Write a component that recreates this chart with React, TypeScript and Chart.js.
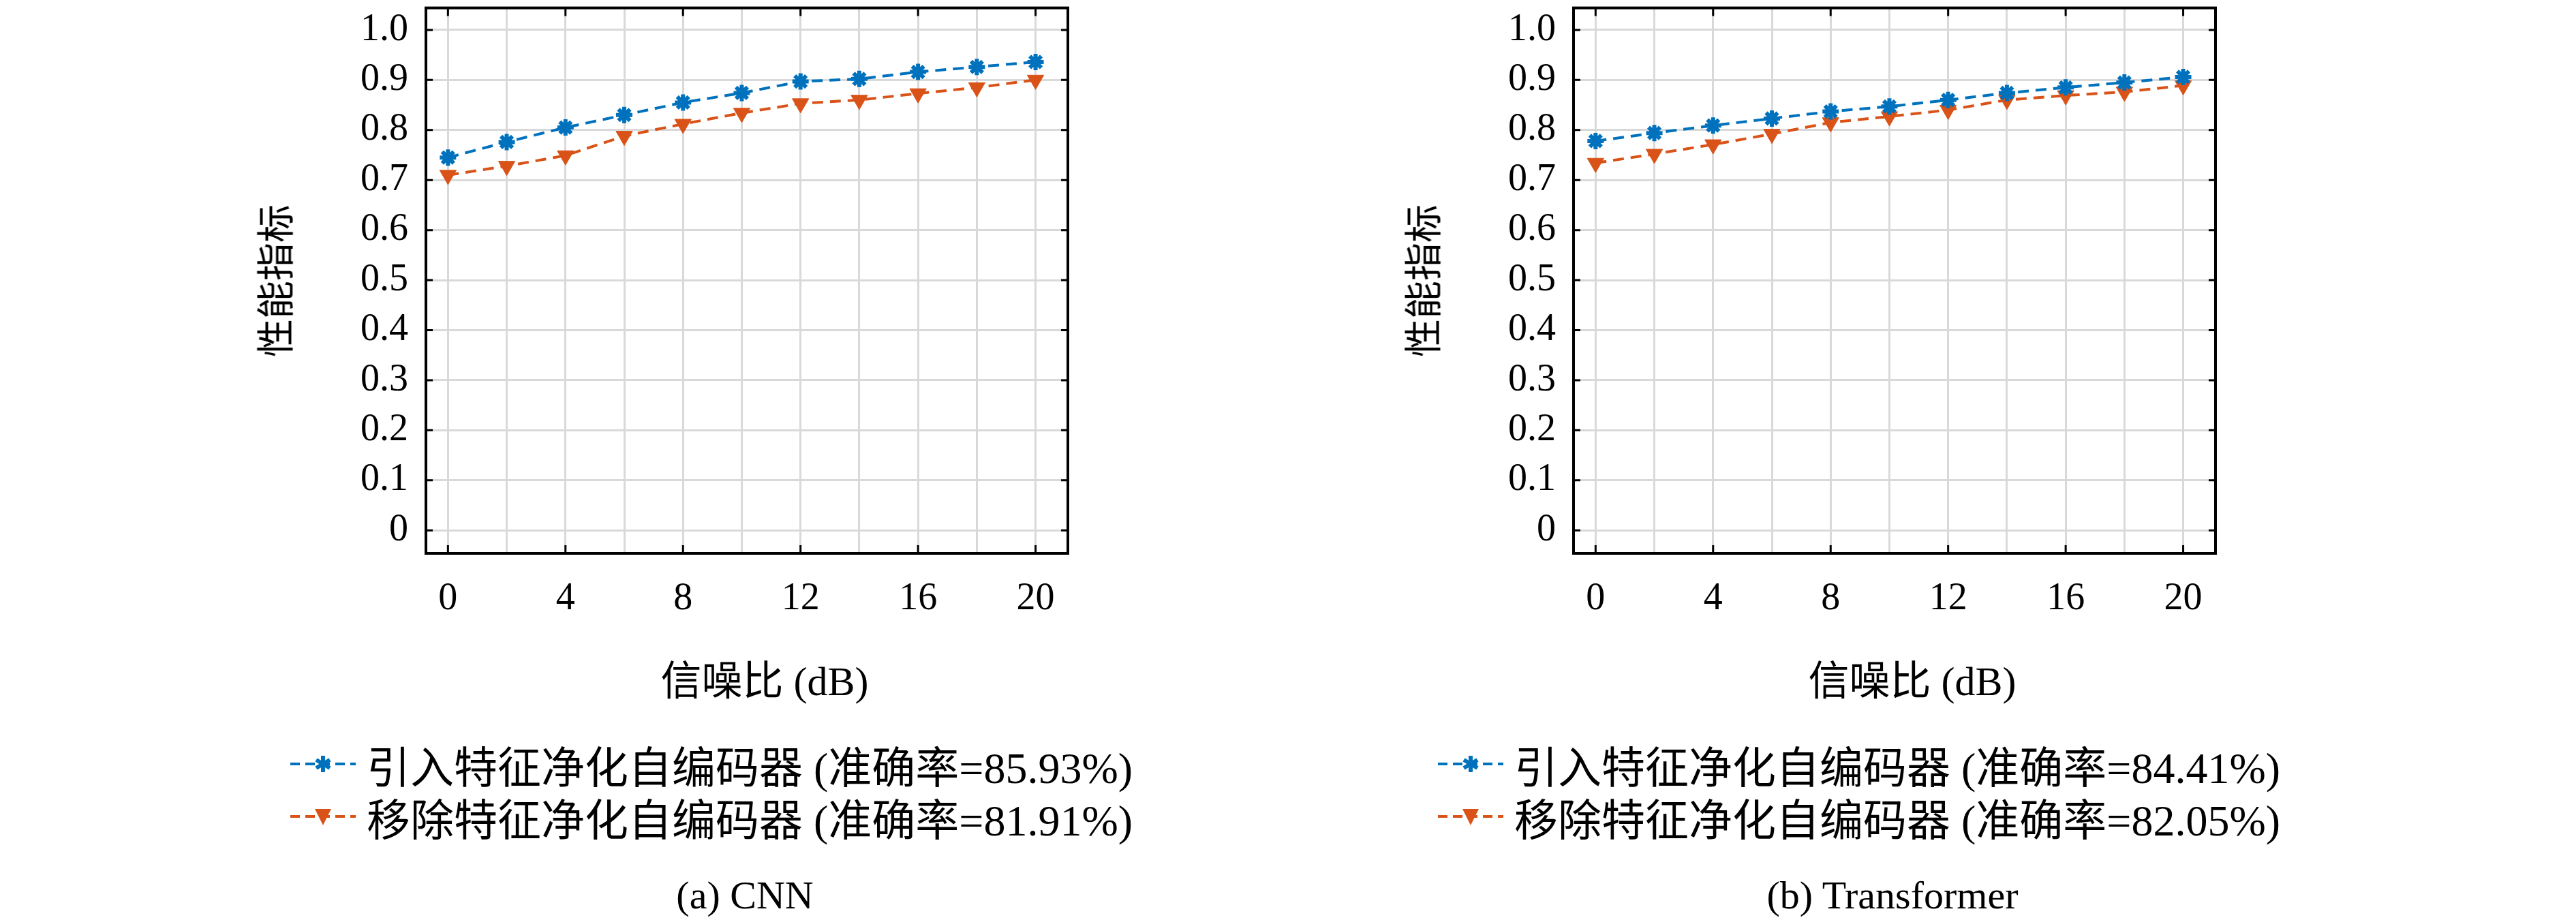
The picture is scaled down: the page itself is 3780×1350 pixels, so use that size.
import React, { useEffect, useRef } from "react";
import { Chart, registerables } from "chart.js";
Chart.register(...registerables);

const snr = [0, 2, 4, 6, 8, 10, 12, 14, 16, 18, 20];
const cnnWith = [0.745, 0.776, 0.805, 0.83, 0.855, 0.874, 0.897, 0.902, 0.916, 0.926, 0.936];
const cnnWithout = [0.71, 0.728, 0.749, 0.788, 0.812, 0.834, 0.853, 0.86, 0.873, 0.885, 0.9];
const trWith = [0.778, 0.794, 0.809, 0.823, 0.837, 0.847, 0.86, 0.874, 0.885, 0.895, 0.906];
const trWithout = [0.734, 0.752, 0.771, 0.792, 0.815, 0.827, 0.84, 0.86, 0.869, 0.876, 0.889];
const yTicks = [0, 0.1, 0.2, 0.3, 0.4, 0.5, 0.6, 0.7, 0.8, 0.9, 1.0];
const xTicks = [0, 2, 4, 6, 8, 10, 12, 14, 16, 18, 20];
const seriesNames = ["引入特征净化自编码器", "移除特征净化自编码器"];
const panels = [
  { caption: "(a) CNN", acc: ["85.93%", "81.91%"], a: cnnWith, b: cnnWithout },
  { caption: "(b) Transformer", acc: ["84.41%", "82.05%"], a: trWith, b: trWithout },
];

const BLUE = "#0072BD";
const ORANGE = "#D95319";
const FONT = "'Liberation Serif', 'Noto Sans CJK SC', serif";

const boxPlugin = {
  id: "box",
  afterDraw(chart: any) {
    const { ctx, chartArea: a, scales } = chart;
    ctx.save();
    ctx.strokeStyle = "#000";
    ctx.lineWidth = 4;
    ctx.strokeRect(a.left, a.top, a.right - a.left, a.bottom - a.top);
    ctx.lineWidth = 3;
    ctx.beginPath();
    for (const v of yTicks) {
      const y = scales.y.getPixelForValue(v);
      ctx.moveTo(a.left, y); ctx.lineTo(a.left + 10, y);
      ctx.moveTo(a.right, y); ctx.lineTo(a.right - 10, y);
    }
    for (const v of xTicks) {
      if (v % 4 !== 0) continue;
      const x = scales.x.getPixelForValue(v);
      ctx.moveTo(x, a.top); ctx.lineTo(x, a.top + 12);
      ctx.moveTo(x, a.bottom); ctx.lineTo(x, a.bottom - 12);
    }
    ctx.stroke();
    ctx.restore();
  },
};

function Panel({ p, offset }: { p: any; offset: number }) {
  const ref = useRef<HTMLCanvasElement>(null);
  useEffect(() => {
    const chart = new Chart(ref.current!, {
      type: "line",
      data: {
        datasets: [
          {
            data: snr.map((x, i) => ({ x, y: p.a[i] })),
            borderColor: BLUE, backgroundColor: BLUE, borderWidth: 4, borderDash: [16, 10],
            pointStyle: "star", pointRadius: 12, pointBorderWidth: 6, pointBorderColor: BLUE,
          },
          {
            data: snr.map((x, i) => ({ x, y: p.b[i] })),
            borderColor: ORANGE, backgroundColor: ORANGE, borderWidth: 4, borderDash: [16, 10],
            pointStyle: "triangle", rotation: 180, pointRadius: 14, pointBorderWidth: 1,
          },
        ],
      },
      options: {
        animation: false, responsive: false,
        layout: { padding: { top: 12, right: 12, left: 0, bottom: 0 } },
        plugins: { legend: { display: false }, tooltip: { enabled: false } },
        scales: {
          x: {
            type: "linear", min: -0.75, max: 21.1,
            afterBuildTicks: (s: any) => { s.ticks = xTicks.map((v) => ({ value: v })); },
            afterFit: (s: any) => { s.height = 130; },
            grid: { color: "#d9d9d9", lineWidth: 3, drawTicks: false },
            border: { display: false },
            ticks: {
              autoSkip: false, maxRotation: 0, padding: 34, color: "#000",
              font: { family: FONT, size: 56 },
              callback: (v: any) => (v % 4 === 0 ? String(v) : ""),
            },
          },
          y: {
            type: "linear", min: -0.046, max: 1.044,
            afterBuildTicks: (s: any) => { s.ticks = yTicks.map((v) => ({ value: v })); },
            afterFit: (s: any) => { s.width = 200; },
            grid: { color: "#d9d9d9", lineWidth: 3, drawTicks: false },
            border: { display: false },
            ticks: {
              padding: 26, color: "#000", font: { family: FONT, size: 56 },
              callback: (v: any) => (v === 0 ? "0" : Number(v).toFixed(1)),
            },
          },
        },
      },
      plugins: [boxPlugin],
    } as any);
    return () => chart.destroy();
  }, []);

  const legendRow = (i: number, top: number) => (
    <div style={{ position: "absolute", left: offset + 424, top, display: "flex", alignItems: "center", fontSize: 64, whiteSpace: "nowrap" }}>
      <svg width="100" height="50" style={{ marginRight: 14 }}>
        <line x1="2" y1="25" x2="98" y2="25" stroke={i === 0 ? BLUE : ORANGE} strokeWidth="4" strokeDasharray="14 8" />
        {i === 0 ? (
          <g stroke={BLUE} strokeWidth="6">
            <line x1="50" y1="13" x2="50" y2="37" />
            <line x1="40" y1="19" x2="60" y2="31" />
            <line x1="40" y1="31" x2="60" y2="19" />
          </g>
        ) : (
          <polygon points="38,14 62,14 50,38" fill={ORANGE} />
        )}
      </svg>
      <span>{seriesNames[i]} (准确率={p.acc[i]})</span>
    </div>
  );

  return (
    <>
      <canvas ref={ref} width={1160} height={990} style={{ position: "absolute", left: offset + 425, top: -48, width: 1160, height: 990 }} />
      <div style={{ position: "absolute", left: offset + 400, top: 412, transform: "translate(-50%,-50%) rotate(-90deg)", fontSize: 56, whiteSpace: "nowrap" }}>性能指标</div>
      <div style={{ position: "absolute", left: offset + 1122, top: 993, transform: "translate(-50%,-50%)", fontSize: 60, whiteSpace: "nowrap" }}>信噪比 (dB)</div>
      <div style={{ position: "absolute", left: 0, top: 1115, transform: "translateY(-50%)" }}>{legendRow(0, -40)}</div>
      <div style={{ position: "absolute", left: 0, top: 1192, transform: "translateY(-50%)" }}>{legendRow(1, -40)}</div>
      <div style={{ position: "absolute", left: offset + 1093, top: 1313, transform: "translate(-50%,-50%)", fontSize: 58, whiteSpace: "nowrap" }}>{p.caption}</div>
    </>
  );
}

export default function App() {
  return (
    <div style={{ position: "fixed", left: 0, top: 0, width: 3780, height: 1350, background: "#fff", fontFamily: FONT, color: "#000", overflow: "hidden" }}>
      {panels.map((p, i) => (
        <Panel key={i} p={p} offset={i * 1684} />
      ))}
    </div>
  );
}
